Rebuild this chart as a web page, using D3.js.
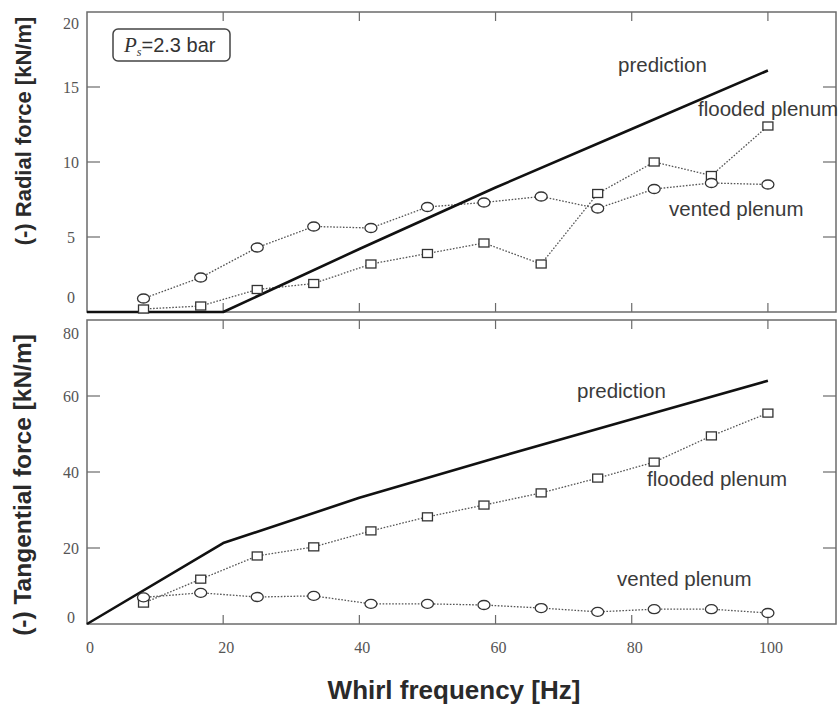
<!DOCTYPE html>
<html>
<head>
<meta charset="utf-8">
<script src="https://cdn.jsdelivr.net/npm/d3@7"></script>
<style>
  html, body { margin: 0; padding: 0; background: #fff; }
  svg { display: block; }
</style>
</head>
<body>
<svg id="chart" width="838" height="705"></svg>
<script>
// Whirl frequencies of the measured points [Hz]
const freq = [8.3, 16.7, 25, 33.3, 41.7, 50, 58.3, 66.7, 75, 83.3, 91.7, 100];

// (-) Radial force [kN/m]
const radialFlooded = [0.2, 0.4, 1.5, 1.9, 3.2, 3.9, 4.6, 3.2, 7.9, 10.0, 9.1, 12.4];
const radialVented  = [0.9, 2.3, 4.3, 5.7, 5.6, 7.0, 7.3, 7.7, 6.9, 8.2, 8.6, 8.5];
const predFreq      = [0, 20, 40, 60, 80, 100];
const radialPred    = [0, 0, 4.2, 8.3, 12.2, 16.1];

// (-) Tangential force [kN/m]
const tangFlooded = [5.5, 11.8, 17.9, 20.3, 24.5, 28.2, 31.3, 34.5, 38.4, 42.6, 49.5, 55.5];
const tangVented  = [7.0, 8.2, 7.1, 7.4, 5.3, 5.3, 5.0, 4.2, 3.2, 3.9, 3.9, 2.9];
const tangPred    = [0, 21.3, 33.2, 43.7, 53.9, 64.0];

// Axis ticks
const xTicks      = [0, 20, 40, 60, 80, 100];
const radialTicks = [0, 5, 10, 15, 20];
const tangTicks   = [0, 20, 40, 60, 80];

const svg = d3.select("#chart");

const x = d3.scaleLinear().domain([0, 110]).range([87, 836]);
const left = 87, right = 836;

const panels = [
  {
    y: d3.scaleLinear().domain([0, 20]).range([312, 12]),
    ticks: radialTicks,
    flooded: radialFlooded, vented: radialVented, pred: radialPred,
    title: "(-) Radial force [kN/m]", titleY: 131, titleSize: 22,
    endNudge: { top: 11, bottom: -15 },
    labels: [
      { t: "prediction", x: 618, y: 72 },
      { t: "flooded plenum", x: 698, y: 116 },
      { t: "vented plenum", x: 669, y: 216 }
    ],
    xLabels: false
  },
  {
    y: d3.scaleLinear().domain([0, 80]).range([624, 320]),
    ticks: tangTicks,
    flooded: tangFlooded, vented: tangVented, pred: tangPred,
    title: "(-) Tangential force [kN/m]", titleY: 485, titleSize: 24.5,
    endNudge: { top: 13, bottom: -7 },
    labels: [
      { t: "prediction", x: 577, y: 398 },
      { t: "flooded plenum", x: 647, y: 486 },
      { t: "vented plenum", x: 617, y: 586 }
    ],
    xLabels: true
  }
];

const frameColor = "#6b6b6b";

panels.forEach(p => {
  const y = p.y;
  const [yBot, yTop] = y.range();
  const g = svg.append("g");

  // Frame
  g.append("rect")
    .attr("x", left).attr("y", yTop)
    .attr("width", right - left).attr("height", yBot - yTop)
    .attr("fill", "none").attr("stroke", frameColor).attr("stroke-width", 1.5);

  // Inward ticks on all four sides
  const inner = xTicks.filter(d => d > 0);
  g.append("g").selectAll("line").data(inner).join("line")
    .attr("x1", d => x(d)).attr("x2", d => x(d))
    .attr("y1", yBot).attr("y2", yBot - 9)
    .attr("stroke", frameColor).attr("stroke-width", 1.2);
  g.append("g").selectAll("line").data(inner).join("line")
    .attr("x1", d => x(d)).attr("x2", d => x(d))
    .attr("y1", yTop).attr("y2", yTop + 9)
    .attr("stroke", frameColor).attr("stroke-width", 1.2);
  const yInner = p.ticks.slice(1, -1);
  g.append("g").selectAll("line").data(yInner).join("line")
    .attr("x1", left).attr("x2", left + 13)
    .attr("y1", d => y(d)).attr("y2", d => y(d))
    .attr("stroke", frameColor).attr("stroke-width", 1.2);
  g.append("g").selectAll("line").data(yInner).join("line")
    .attr("x1", right).attr("x2", right - 13)
    .attr("y1", d => y(d)).attr("y2", d => y(d))
    .attr("stroke", frameColor).attr("stroke-width", 1.2);

  // Y tick labels
  const maxV = y.domain()[1];
  g.append("g").selectAll("text").data(p.ticks).join("text")
    .attr("x", 71)
    .attr("y", d => y(d) + (d === maxV ? p.endNudge.top : d === 0 ? p.endNudge.bottom : 0))
    .attr("dy", "0.35em")
    .attr("text-anchor", "middle")
    .attr("font-family", "'Liberation Serif', 'DejaVu Serif', serif")
    .attr("font-size", 16)
    .attr("fill", "#555")
    .text(d => d);

  // Y title
  svg.append("text")
    .attr("transform", `translate(31,${p.titleY}) rotate(-90)`)
    .attr("text-anchor", "middle")
    .attr("font-family", "'Liberation Sans', Arial, sans-serif")
    .attr("font-weight", "bold")
    .attr("font-size", p.titleSize)
    .attr("fill", "#2a2a2a")
    .text(p.title);

  // Measured series: dotted connecting lines
  const line = d3.line().x(d => x(d[0])).y(d => y(d[1]));
  [p.flooded, p.vented].forEach(vals => {
    g.append("path")
      .datum(freq.map((f, i) => [f, vals[i]]))
      .attr("d", line)
      .attr("fill", "none")
      .attr("stroke", "#555")
      .attr("stroke-width", 1.3)
      .attr("stroke-dasharray", "1.6,1.6");
  });

  // Prediction
  g.append("path")
    .datum(predFreq.map((f, i) => [f, p.pred[i]]))
    .attr("d", line)
    .attr("fill", "none")
    .attr("stroke", "#111")
    .attr("stroke-width", 2.6)
    .attr("stroke-linejoin", "round");

  // Markers: squares for flooded plenum, circles for vented plenum
  g.append("g").selectAll("rect").data(freq.map((f, i) => [f, p.flooded[i]])).join("rect")
    .attr("x", d => x(d[0]) - 5).attr("y", d => y(d[1]) - 4)
    .attr("width", 10).attr("height", 8)
    .attr("fill", "#fff").attr("stroke", "#333").attr("stroke-width", 1.3);
  g.append("g").selectAll("ellipse").data(freq.map((f, i) => [f, p.vented[i]])).join("ellipse")
    .attr("cx", d => x(d[0])).attr("cy", d => y(d[1]))
    .attr("rx", 6).attr("ry", 4.5)
    .attr("fill", "#fff").attr("stroke", "#333").attr("stroke-width", 1.3);

  // Curve labels
  g.append("g").selectAll("text").data(p.labels).join("text")
    .attr("x", d => d.x).attr("y", d => d.y)
    .attr("font-family", "'Liberation Sans', Arial, sans-serif")
    .attr("font-size", 20.5)
    .attr("fill", "#3a3a3a")
    .text(d => d.t);

  // X tick labels on the lower panel
  if (p.xLabels) {
    g.append("g").selectAll("text").data(xTicks).join("text")
      .attr("x", d => x(d) + 3).attr("y", yBot + 29)
      .attr("text-anchor", "middle")
      .attr("font-family", "'Liberation Serif', 'DejaVu Serif', serif")
      .attr("font-size", 16)
      .attr("fill", "#555")
      .text(d => d);
  }
});

// X title
svg.append("text")
  .attr("x", 454).attr("y", 699)
  .attr("text-anchor", "middle")
  .attr("font-family", "'Liberation Sans', Arial, sans-serif")
  .attr("font-weight", "bold")
  .attr("font-size", 26)
  .attr("fill", "#2a2a2a")
  .text("Whirl frequency [Hz]");

// Supply pressure box
const box = svg.append("g");
box.append("rect")
  .attr("x", 113).attr("y", 29).attr("width", 117).attr("height", 32)
  .attr("rx", 5).attr("ry", 5)
  .attr("fill", "#fff").attr("stroke", "#444").attr("stroke-width", 1.5);
const bt = box.append("text")
  .attr("x", 124).attr("y", 52)
  .attr("font-family", "'Liberation Sans', Arial, sans-serif")
  .attr("font-size", 20)
  .attr("fill", "#333");
bt.append("tspan")
  .attr("font-family", "'Liberation Serif', serif")
  .attr("font-style", "italic")
  .attr("font-size", 21)
  .text("P");
bt.append("tspan")
  .attr("font-family", "'Liberation Serif', serif")
  .attr("font-style", "italic")
  .attr("font-size", 12)
  .attr("dy", 4)
  .text("s");
bt.append("tspan")
  .attr("dy", -4)
  .text("=2.3 bar");
</script>
</body>
</html>
